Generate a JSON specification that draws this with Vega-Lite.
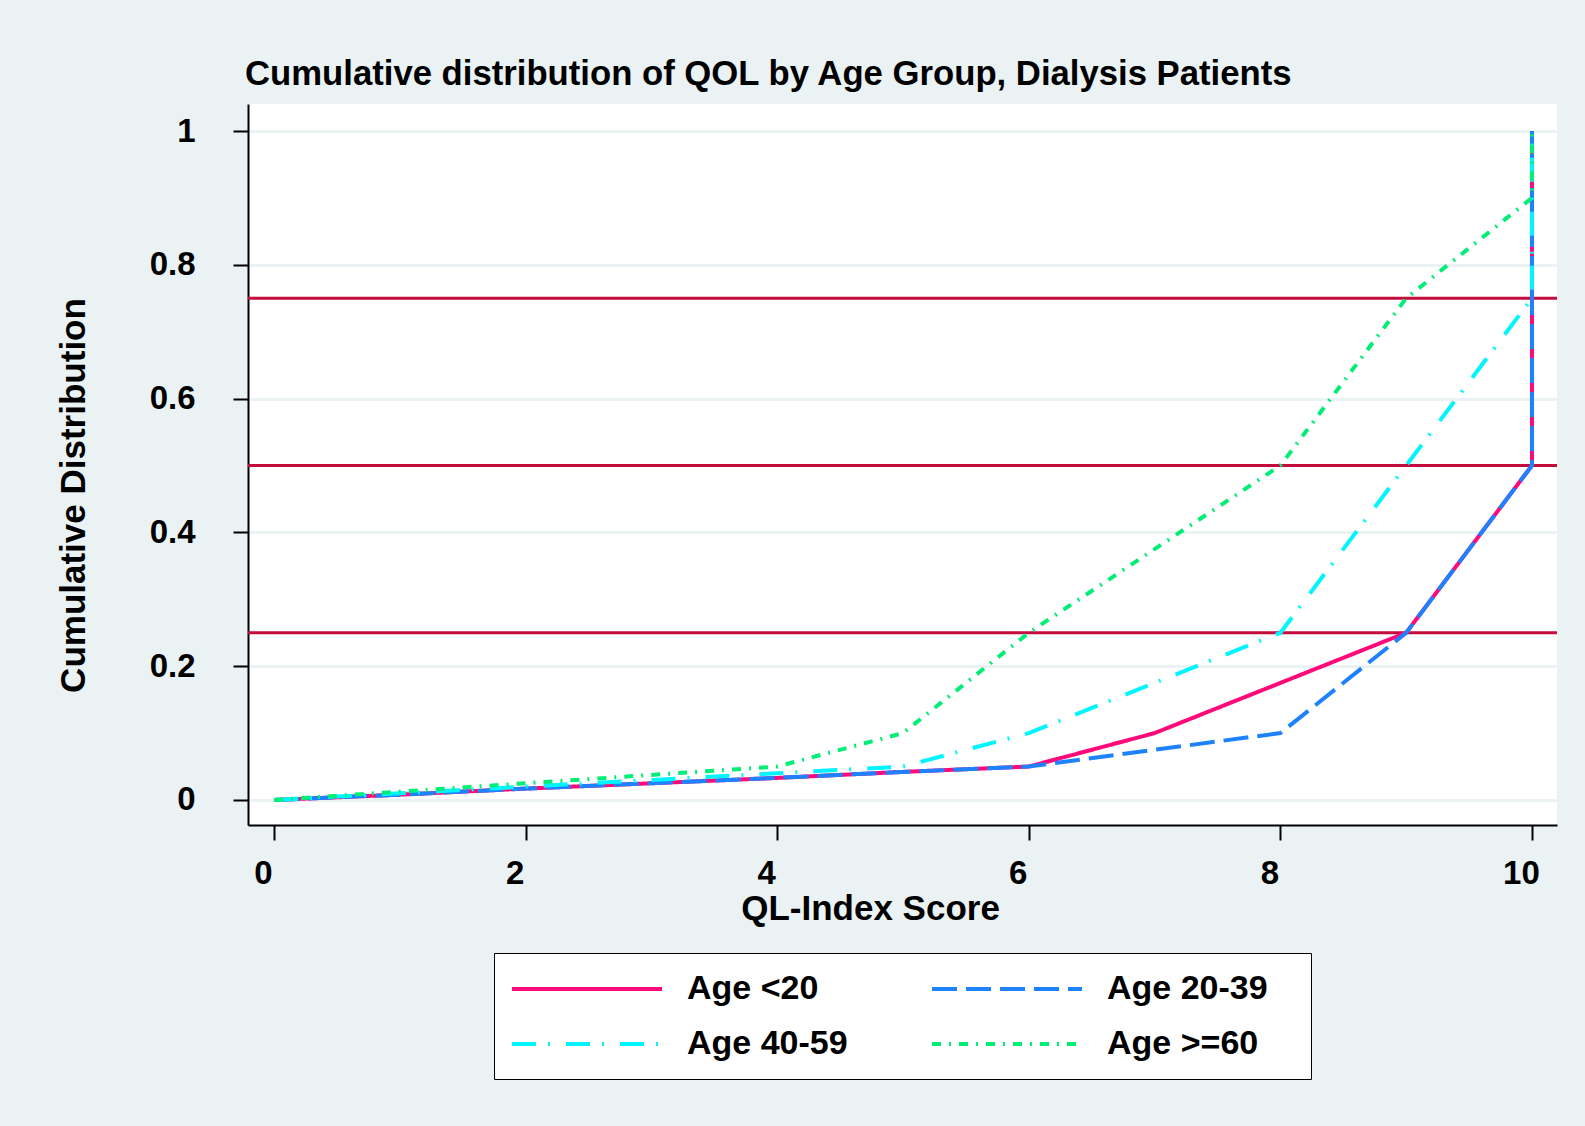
{
  "$schema": "https://vega.github.io/schema/vega-lite/v6.json",
  "autosize": "none",
  "width": 1309,
  "height": 721,
  "padding": {"left": 248, "top": 104, "right": 28, "bottom": 301},
  "background": "#eaf2f3",
  "title": {
    "text": "Cumulative distribution of QOL by Age Group, Dialysis Patients",
    "anchor": "start",
    "frame": "group",
    "font": "Liberation Sans",
    "fontSize": 34.7,
    "fontWeight": "bold",
    "color": "#000000",
    "baseline": "alphabetic",
    "offset": -16,
    "dx": -3
  },
  "config": {
    "view": {"fill": "white", "stroke": null},
    "font": "Liberation Sans",
    "axis": {
      "domainColor": "#000000",
      "domainWidth": 2,
      "tickColor": "#000000",
      "tickWidth": 2,
      "tickSize": 15,
      "labelFont": "Liberation Sans",
      "labelFontWeight": "bold",
      "labelFontSize": 33,
      "labelColor": "#000000",
      "titleFont": "Liberation Sans",
      "titleFontWeight": "bold",
      "titleFontSize": 35,
      "titleColor": "#000000"
    }
  },
  "layer": [
    {
      "data": {"values": [{"q": 0.25}, {"q": 0.5}, {"q": 0.75}]},
      "mark": {"type": "rule", "color": "#c40d3c", "strokeWidth": 3},
      "encoding": {
        "y": {"field": "q", "type": "quantitative", "title": "Cumulative Distribution"}
      }
    },
    {
      "data": {
        "values": [
          {"group": "Age <20", "x": 0, "y": 0},
          {"group": "Age <20", "x": 1, "y": 0.008},
          {"group": "Age <20", "x": 2, "y": 0.017},
          {"group": "Age <20", "x": 3, "y": 0.025},
          {"group": "Age <20", "x": 4, "y": 0.033},
          {"group": "Age <20", "x": 5, "y": 0.042},
          {"group": "Age <20", "x": 6, "y": 0.05},
          {"group": "Age <20", "x": 7, "y": 0.1},
          {"group": "Age <20", "x": 8, "y": 0.175},
          {"group": "Age <20", "x": 9, "y": 0.25},
          {"group": "Age <20", "x": 10, "y": 0.5},
          {"group": "Age <20", "x": 10, "y": 1},
          {"group": "Age 20-39", "x": 0, "y": 0},
          {"group": "Age 20-39", "x": 1, "y": 0.008},
          {"group": "Age 20-39", "x": 2, "y": 0.017},
          {"group": "Age 20-39", "x": 3, "y": 0.025},
          {"group": "Age 20-39", "x": 4, "y": 0.033},
          {"group": "Age 20-39", "x": 5, "y": 0.042},
          {"group": "Age 20-39", "x": 6, "y": 0.05},
          {"group": "Age 20-39", "x": 7, "y": 0.075},
          {"group": "Age 20-39", "x": 8, "y": 0.1},
          {"group": "Age 20-39", "x": 9, "y": 0.25},
          {"group": "Age 20-39", "x": 10, "y": 0.5},
          {"group": "Age 20-39", "x": 10, "y": 1},
          {"group": "Age 40-59", "x": 0, "y": 0},
          {"group": "Age 40-59", "x": 1, "y": 0.01},
          {"group": "Age 40-59", "x": 2, "y": 0.02},
          {"group": "Age 40-59", "x": 3, "y": 0.03},
          {"group": "Age 40-59", "x": 4, "y": 0.04},
          {"group": "Age 40-59", "x": 5, "y": 0.05},
          {"group": "Age 40-59", "x": 6, "y": 0.1},
          {"group": "Age 40-59", "x": 7, "y": 0.175},
          {"group": "Age 40-59", "x": 8, "y": 0.25},
          {"group": "Age 40-59", "x": 9, "y": 0.5},
          {"group": "Age 40-59", "x": 10, "y": 0.75},
          {"group": "Age 40-59", "x": 10, "y": 1},
          {"group": "Age >=60", "x": 0, "y": 0},
          {"group": "Age >=60", "x": 1, "y": 0.0125},
          {"group": "Age >=60", "x": 2, "y": 0.025},
          {"group": "Age >=60", "x": 3, "y": 0.0375},
          {"group": "Age >=60", "x": 4, "y": 0.05},
          {"group": "Age >=60", "x": 5, "y": 0.1},
          {"group": "Age >=60", "x": 6, "y": 0.25},
          {"group": "Age >=60", "x": 7, "y": 0.375},
          {"group": "Age >=60", "x": 8, "y": 0.5},
          {"group": "Age >=60", "x": 9, "y": 0.75},
          {"group": "Age >=60", "x": 10, "y": 0.9},
          {"group": "Age >=60", "x": 10, "y": 1}
        ]
      },
      "mark": {"type": "line", "strokeWidth": 4, "strokeCap": "butt", "strokeJoin": "miter"},
      "encoding": {
        "x": {
          "field": "x",
          "type": "quantitative",
          "title": "QL-Index Score",
          "scale": {"domain": [-0.207, 10.199], "nice": false, "zero": false},
          "axis": {
            "values": [0, 2, 4, 6, 8, 10],
            "grid": false,
            "labelPadding": 17,
            "labelOffset": -11,
            "titleX": 622,
            "titleY": 94,
            "titleBaseline": "alphabetic",
            "titleAnchor": null
          }
        },
        "y": {
          "field": "y",
          "type": "quantitative",
          "title": "Cumulative Distribution",
          "scale": {"domain": [-0.0374, 1.0404], "nice": false, "zero": false},
          "axis": {
            "values": [0, 0.2, 0.4, 0.6, 0.8, 1],
            "format": "~g",
            "grid": true,
            "gridColor": "#eaf2f3",
            "gridWidth": 3,
            "labelPadding": 38,
            "titleX": -175,
            "titleY": 391,
            "titleBaseline": "middle",
            "titleAlign": "center"
          }
        },
        "order": {"field": "y", "type": "quantitative"},
        "color": {
          "field": "group",
          "type": "nominal",
          "title": null,
          "scale": {
            "domain": ["Age <20", "Age 20-39", "Age 40-59", "Age >=60"],
            "range": ["#ff0a7a", "#1e82ff", "#00f5ff", "#00ee76"]
          },
          "legend": {
            "orient": "none",
            "legendX": 246,
            "legendY": 849,
            "direction": "horizontal",
            "columns": 2,
            "symbolType": "M-4.6875,0H4.6875",
            "symbolSize": 1024,
            "symbolOffset": 57,
            "symbolStrokeWidth": 4,
            "labelFont": "Liberation Sans",
            "labelFontSize": 34,
            "labelFontWeight": "bold",
            "labelColor": "#000000",
            "labelOffset": 82,
            "labelLimit": 400,
            "labelExpr": "datum.label + '\u2800'",
            "columnPadding": 51,
            "rowPadding": 20,
            "padding": 18,
            "strokeColor": "#000000",
            "fillColor": "#ffffff"
          }
        },
        "strokeDash": {
          "field": "group",
          "type": "nominal",
          "title": null,
          "scale": {
            "domain": ["Age <20", "Age 20-39", "Age 40-59", "Age >=60"],
            "range": [[1, 0], [25, 9], [24, 12, 2, 16], [9, 8, 2, 8]]
          }
        }
      }
    }
  ]
}
